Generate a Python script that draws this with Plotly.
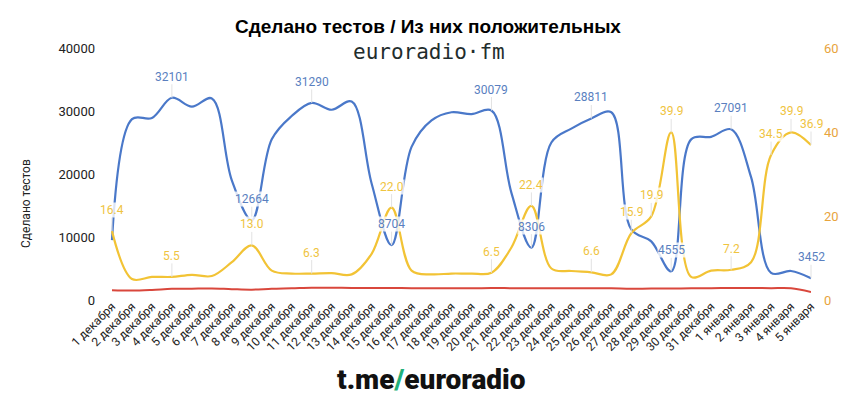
import plotly.graph_objects as go

dates = ["1 декабря", "2 декабря", "3 декабря", "4 декабря", "5 декабря", "6 декабря",
         "7 декабря", "8 декабря", "9 декабря", "10 декабря", "11 декабря", "12 декабря",
         "13 декабря", "14 декабря", "15 декабря", "16 декабря", "17 декабря", "18 декабря",
         "19 декабря", "20 декабря", "21 декабря", "22 декабря", "23 декабря", "24 декабря",
         "25 декабря", "26 декабря", "27 декабря", "28 декабря", "29 декабря", "30 декабря",
         "31 декабря", "1 января", "2 января", "3 января", "4 января", "5 января"]

tests = [9500, 28700, 28900, 32101, 30700, 32000, 19000, 12664, 25500, 29200,
         31290, 30200, 31500, 18500, 8704, 24300, 28500, 29800, 29500, 30079,
         17000, 8306, 25000, 27200, 28811, 29800, 11200, 9300, 4555, 25500,
         25900, 27091, 19500, 4300, 4600, 3452]

positives = [1560, 1500, 1600, 1766, 1800, 1830, 1720, 1646, 1780, 1850,
             1940, 1930, 1920, 1900, 1915, 1880, 1870, 1880, 1860, 1900,
             1880, 1861, 1870, 1880, 1860, 1850, 1780, 1830, 1817, 1860,
             1880, 1900, 1900, 1880, 1870, 1274]

share = [16.4, 5.0, 5.5, 5.5, 6.0, 5.7, 9.0, 13.0, 7.0, 6.3,
         6.3, 6.4, 6.1, 11.0, 22.0, 7.0, 6.1, 6.3, 6.3, 6.5,
         12.5, 22.4, 7.5, 6.9, 6.6, 6.1, 15.9, 19.9, 39.9, 5.5,
         7.0, 7.2, 9.0, 34.5, 39.9, 36.9]

tests_label_idx = [3, 7, 10, 14, 19, 21, 24, 28, 31, 35]
share_label_idx = [0, 3, 7, 10, 14, 19, 21, 24, 26, 27, 28, 31, 33, 34, 35]

left_ticks = [0, 10000, 20000, 30000, 40000]
right_ticks = [0, 20, 40, 60]

BLUE = "#4a78c9"
YELLOW = "#f2c335"
RED = "#d9473c"
ORANGE = "#e8a43c"
FONT = "Roboto"

x = list(range(len(dates)))

fig = go.Figure()
fig.add_trace(go.Scatter(x=x, y=tests, mode="lines", line=dict(color=BLUE, width=2.2, shape="spline", smoothing=1.0),
                         yaxis="y", hoverinfo="skip", showlegend=False, cliponaxis=False))
fig.add_trace(go.Scatter(x=x, y=positives, mode="lines", line=dict(color=RED, width=2, shape="spline", smoothing=1.0),
                         yaxis="y", hoverinfo="skip", showlegend=False, cliponaxis=False))
fig.add_trace(go.Scatter(x=x, y=share, mode="lines", line=dict(color=YELLOW, width=2.2, shape="spline", smoothing=1.0),
                         yaxis="y2", hoverinfo="skip", showlegend=False, cliponaxis=False))

W, H = 851, 398
ml, mr, mt, mb = 102, 40, 48, 98
pw, ph = W - ml - mr, H - mt - mb

def px_to_paper(px, py):
    return (px - ml) / pw, (H - mb - py) / ph

annotations = []
for i in tests_label_idx:
    annotations.append(dict(x=i, y=tests[i], xref="x", yref="y", text=str(tests[i]),
                            showarrow=True, arrowhead=0, arrowwidth=1, arrowcolor="#e2e2e2",
                            ax=0, ay=-21, bgcolor="rgba(255,255,255,0.8)", borderpad=0,
                            font=dict(family=FONT, size=12, color="#5a7fbf")))
for i in share_label_idx:
    annotations.append(dict(x=i, y=share[i], xref="x", yref="y2", text=f"{share[i]:.1f}",
                            showarrow=True, arrowhead=0, arrowwidth=1, arrowcolor="#e2e2e2",
                            ax=0, ay=-21, bgcolor="rgba(255,255,255,0.8)", borderpad=0,
                            font=dict(family=FONT, size=12, color="#efc43f")))

tx, ty = px_to_paper(428, 26)
annotations.append(dict(xref="paper", yref="paper", x=tx, y=ty, text="<b>Сделано тестов / Из них положительных</b>",
                        showarrow=False, xanchor="center", yanchor="middle",
                        font=dict(family="Liberation Sans", size=19, color="#000000")))
lx, ly = px_to_paper(429, 52)
annotations.append(dict(text="euroradio·fm", showarrow=False, xref="paper", yref="paper",
                        x=lx, y=ly, xanchor="center", yanchor="middle",
                        font=dict(family="DejaVu Sans Mono", size=21, color="#1f2d2d")))
yx, yy = px_to_paper(26, 204)
annotations.append(dict(text="Сделано тестов", showarrow=False, xref="paper", yref="paper",
                        x=yx, y=yy, textangle=-90, xanchor="center", yanchor="middle",
                        font=dict(family=FONT, size=12, color="#222222")))
bx, by = px_to_paper(431, 379)
annotations.append(dict(text="t.me<span style='color:#22b07a'>/</span>euroradio", showarrow=False,
                        xref="paper", yref="paper", x=bx, y=by, xanchor="center", yanchor="middle",
                        font=dict(family="Roboto Black, Lato Black, Roboto", size=28, color="#111111", weight=900)))

fig.update_layout(
    width=W, height=H,
    margin=dict(l=ml, r=mr, t=mt, b=mb, autoexpand=False),
    paper_bgcolor="white", plot_bgcolor="white",
    font=dict(family=FONT, size=12, color="#222222"),
    xaxis=dict(range=[-0.5, len(dates) - 1], tickmode="array", tickvals=x, ticktext=dates,
               tickangle=-45, showgrid=False, zeroline=False, showline=False, ticks="",
               tickfont=dict(family=FONT, size=12, color="#222222"), ticklabelstandoff=-4),
    yaxis=dict(range=[0, 40000], tickmode="array", tickvals=left_ticks, ticktext=[str(v) for v in left_ticks],
               showgrid=False, zeroline=False, showline=False, ticks="",
               tickfont=dict(family=FONT, size=13, color="#222222"), ticklabelstandoff=6),
    yaxis2=dict(range=[0, 60], overlaying="y", side="right", tickmode="array", tickvals=right_ticks,
                ticktext=[str(v) for v in right_ticks], showgrid=False, zeroline=False, showline=False,
                ticks="", tickfont=dict(family=FONT, size=13, color=ORANGE), ticklabelstandoff=12),
    annotations=annotations,
    showlegend=False,
)

fig.write_html("out.html", config={"displayModeBar": False},
               post_script="document.body.style.margin='0';")
